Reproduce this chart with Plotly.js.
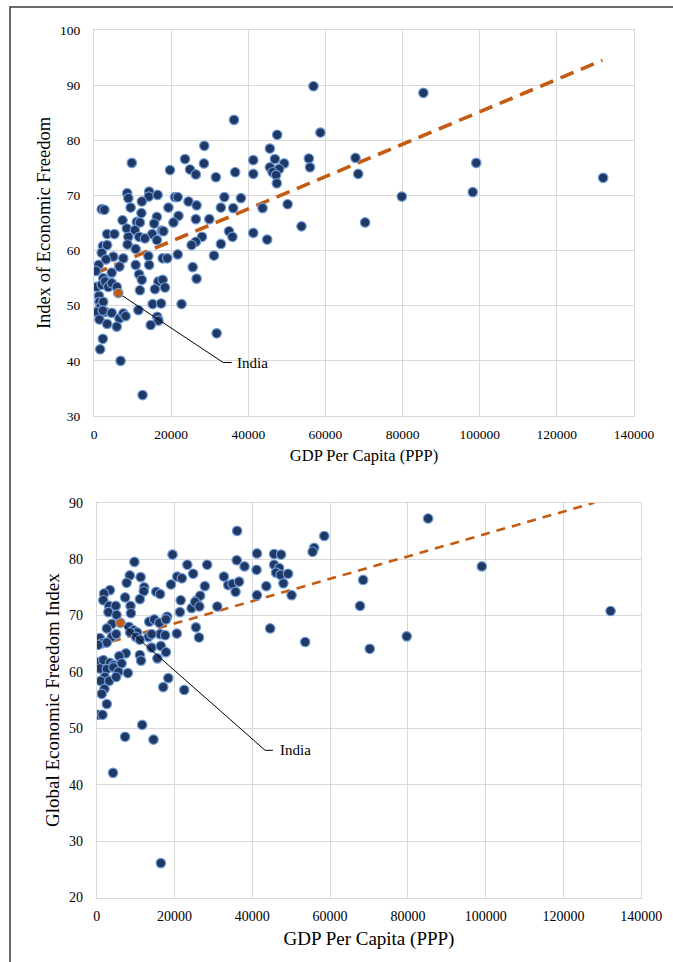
<!DOCTYPE html>
<html><head><meta charset="utf-8">
<script src="https://cdn.plot.ly/plotly-3.0.1.min.js"></script>
<style>html,body{margin:0;padding:0;background:#fff}#chart{width:673px;height:962px}</style>
</head><body><div id="chart"></div>
<script>
// ---- Top chart: Index of Economic Freedom vs GDP per capita (PPP)
const topGdp = [56900,85400,36300,47500,58700,28600,45600,23600,41300,46900,55700,67800,99100,28500,49300,24900,45600,48000,46300,26400,31600,36600,41300,47200,56000,68500,47400,24500,26600,33800,38100,32900,36100,43700,50200,79800,98200,26400,29900,35000,35900,28000,26400,25300,32900,41300,44900,53800,70300,31100,25600,26600,22700,132000,
9800,19700,8600,8900,14300,14200,16500,12400,9500,2000,2700,19300,21000,21700,12300,7400,11100,11900,16300,15600,21900,20600,8500,10600,3400,5300,8900,11700,15100,17600,18000,13200,16300,8700,10800,2300,2000,3400,5000,3100,7600,14100,17800,19000,14300,10800,6600,1200,500,4600,2400,11700,21700,
700,2000,2900,3700,4600,5900,12400,16700,17800,11900,15800,18400,1300,1400,1700,2400,2900,700,1400,2300,4600,6600,7600,8200,3400,5900,11500,15200,17400,16400,16700,14700,31800,2300,1600,6900,12600];
const topEfi = [89.8,88.6,83.7,81.0,81.4,79.0,78.5,76.6,76.4,76.6,76.7,76.8,75.9,75.8,75.8,74.7,75.1,74.8,74.2,73.8,73.3,74.2,73.9,73.7,75.1,73.9,72.2,68.9,68.2,69.7,69.5,67.8,67.7,67.7,68.4,69.8,70.6,65.7,65.7,63.5,62.5,62.5,61.6,61.0,61.2,63.2,62.0,64.4,65.1,59.1,57.0,54.9,50.3,73.2,
75.9,74.6,70.4,69.5,70.7,69.8,70.1,68.9,67.8,67.5,67.4,67.8,69.7,69.7,66.8,65.5,65.2,65.1,66.1,64.9,66.3,65.1,64.0,63.7,63.0,63.0,62.5,62.5,63.0,63.6,63.5,62.2,61.9,61.1,60.3,60.8,59.6,61.0,58.9,58.4,58.6,59.0,58.6,58.6,57.4,57.4,57.1,57.4,56.3,56.0,55.0,55.7,59.3,
53.4,53.8,54.4,53.4,54.1,53.4,54.7,54.4,54.7,52.8,53.0,53.3,51.8,50.7,49.8,50.7,48.9,48.9,47.5,49.1,48.7,47.7,48.6,48.1,46.7,46.2,49.2,50.3,50.4,48.0,47.3,46.5,45.0,44.0,42.1,40.0,33.8];
const topTrendGdp = [0, 131800];
const topTrendEfi = [55.8, 94.5];
const topIndia = {gdp: 6300, val: 52.3};
const topIndiaLeaderGdp = [6300, 33500, 35700];
const topIndiaLeaderVal = [52.3, 39.7, 39.7];
const topIndiaLabelAt = [36600, 39.7];

// ---- Bottom chart: Global Economic Freedom Index vs GDP per capita (PPP)
const botGdp = [85200,36100,58500,55900,55500,41200,45600,47400,28400,36000,38000,41100,45600,46900,46100,47300,49200,48000,32700,33800,34900,36600,35700,27800,43600,41200,50100,99000,68500,67700,31000,132100,44600,53600,79700,70200,
9700,19500,8500,11300,7700,12200,12100,3400,1900,1700,7300,11100,15300,16300,20700,21900,23300,24800,19100,21600,24400,25700,26600,25300,26400,21400,3200,4900,8700,8800,3000,3900,2600,5100,8300,9400,10400,8600,10100,13500,14800,16100,16300,17600,18100,20600,17800,13300,14100,25500,26300,800,3900,5000,
1500,2600,400,11100,7500,5800,11100,11400,14100,16500,17800,15600,800,1700,3400,4300,6400,800,2600,4300,5600,8000,2100,1000,3200,5000,2000,1300,2600,400,1500,18400,17100,22500,11700,7300,14600,16500,4200];
const botGfi = [87.2,85.0,84.1,82.0,81.3,81.0,80.9,80.8,79.0,79.8,78.7,78.1,79.0,78.4,77.6,77.2,77.4,75.7,76.9,75.4,75.6,76.0,74.2,75.2,75.2,73.6,73.6,78.7,76.3,71.7,71.6,70.8,67.7,65.3,66.3,64.1,
79.5,80.8,77.1,76.8,75.8,75.0,74.3,74.5,73.9,72.7,73.2,72.9,74.2,73.8,76.9,76.6,79.0,77.4,75.5,72.7,71.3,72.7,73.5,72.4,71.6,70.6,71.7,71.7,71.7,70.4,70.6,68.5,67.7,70.1,68.0,67.4,67.0,67.0,66.2,68.9,69.3,68.7,66.7,66.5,69.8,66.8,69.3,66.2,66.7,67.9,66.1,66.0,66.2,66.7,
65.1,65.2,64.8,65.7,63.3,62.8,63.0,62.0,64.3,64.6,63.5,62.4,61.8,62.1,61.6,61.2,61.5,60.6,60.5,60.8,60.0,59.8,59.1,58.4,58.4,59.1,57.0,56.1,54.3,52.4,52.4,58.9,57.3,56.8,50.6,48.5,48.0,26.1,42.1];
const botTrendGdp = [0, 127900];
const botTrendGfi = [64.6, 90.0];
const botIndia = {gdp: 6100, val: 68.7};
const botIndiaLeaderGdp = [6100, 43300, 45300];
const botIndiaLeaderVal = [68.7, 46.1, 46.1];
const botIndiaLabelAt = [46600, 46.1];

const labels = {
  x: 'GDP Per Capita (PPP)',
  yTop: 'Index of Economic Freedom',
  yBot: 'Global Economic Freedom Index',
  india: 'India'
};

// ---- layout geometry (pixels in a 673 x 962 page)
const W = 673, H = 962;
const px = v => v / W, py = v => 1 - v / H;

const FONT = 'Liberation Serif, Times New Roman, serif';
const NAVY = '#1f3864', EDGE = '#6f9ad8', ORANGE = '#c55a11', GRID = '#d9d9d9';

const markerStyle = {size: 9.5, color: NAVY, line: {color: EDGE, width: 1.2}};

const traces = [
  {x: topTrendGdp, y: topTrendEfi, xaxis: 'x', yaxis: 'y', mode: 'lines',
   line: {color: ORANGE, width: 3.6, dash: '14px,8px'}, hoverinfo: 'skip'},
  {x: topGdp, y: topEfi, xaxis: 'x', yaxis: 'y', mode: 'markers', marker: markerStyle},
  {x: topIndiaLeaderGdp, y: topIndiaLeaderVal, xaxis: 'x', yaxis: 'y', mode: 'lines',
   line: {color: '#000', width: 1}, hoverinfo: 'skip'},
  {x: [topIndia.gdp], y: [topIndia.val], xaxis: 'x', yaxis: 'y', mode: 'markers',
   marker: {size: 9.5, color: ORANGE, line: {color: EDGE, width: 1.2}}},

  {x: botTrendGdp, y: botTrendGfi, xaxis: 'x2', yaxis: 'y2', mode: 'lines',
   line: {color: ORANGE, width: 2.6, dash: '9px,7px'}, hoverinfo: 'skip'},
  {x: botGdp, y: botGfi, xaxis: 'x2', yaxis: 'y2', mode: 'markers', marker: markerStyle},
  {x: botIndiaLeaderGdp, y: botIndiaLeaderVal, xaxis: 'x2', yaxis: 'y2', mode: 'lines',
   line: {color: '#000', width: 1}, hoverinfo: 'skip'},
  {x: [botIndia.gdp], y: [botIndia.val], xaxis: 'x2', yaxis: 'y2', mode: 'markers',
   marker: {size: 9.5, color: ORANGE, line: {color: EDGE, width: 1.2}}}
];

function xAxis(domain, anchor, fontSize, titleSize, standoff) {
  return {
    domain: domain, anchor: anchor, range: [0, 140000], dtick: 20000, tick0: 0,
    tickformat: 'd', showgrid: true, gridcolor: GRID, gridwidth: 1,
    showline: true, mirror: true, linecolor: GRID, linewidth: 1, zeroline: false,
    ticks: '', ticklabelstandoff: 6,
    tickfont: {family: FONT, size: fontSize, color: '#000'},
    title: {text: labels.x, font: {family: FONT, size: titleSize, color: '#000'}, standoff: standoff},
    automargin: false, fixedrange: true
  };
}
function yAxis(domain, anchor, range, text, fontSize, titleSize, standoff) {
  return {
    domain: domain, anchor: anchor, range: range, dtick: 10,
    showgrid: true, gridcolor: GRID, gridwidth: 1,
    showline: true, mirror: true, linecolor: GRID, linewidth: 1, zeroline: false,
    ticks: '', ticklabelstandoff: 10,
    tickfont: {family: FONT, size: fontSize, color: '#000'},
    title: {text: text, font: {family: FONT, size: titleSize, color: '#000'}, standoff: standoff},
    automargin: false, fixedrange: true
  };
}

const layout = {
  width: W, height: H,
  margin: {l: 0, r: 0, t: 0, b: 0, pad: 0},
  paper_bgcolor: '#fff', plot_bgcolor: '#fff',
  showlegend: false,
  font: {family: FONT, color: '#000'},
  xaxis: xAxis([px(94), px(634)], 'y', 13.5, 16.5, 8),
  yaxis: yAxis([py(416), py(30)], 'x', [30, 100], labels.yTop, 13.5, 18.5, 4),
  xaxis2: xAxis([px(96.7), px(641.3)], 'y2', 14, 19, 8),
  yaxis2: yAxis([py(897.5), py(502.7)], 'x2', [20, 90], labels.yBot, 14, 19, 4),
  annotations: [
    {xref: 'x', yref: 'y', x: topIndiaLabelAt[0], y: topIndiaLabelAt[1], text: labels.india,
     showarrow: false, xanchor: 'left', yanchor: 'middle',
     font: {family: FONT, size: 15, color: '#000'}},
    {xref: 'x2', yref: 'y2', x: botIndiaLabelAt[0], y: botIndiaLabelAt[1], text: labels.india,
     showarrow: false, xanchor: 'left', yanchor: 'middle',
     font: {family: FONT, size: 15, color: '#000'}}
  ],
  shapes: [
    {type: 'rect', xref: 'paper', yref: 'paper', x0: px(10), x1: 1.05, y0: -0.05, y1: py(7),
     line: {color: '#3a3a3a', width: 1.5}, fillcolor: 'rgba(0,0,0,0)', layer: 'above'}
  ]
};

Plotly.newPlot('chart', traces, layout, {staticPlot: true, displayModeBar: false});
</script></body></html>
